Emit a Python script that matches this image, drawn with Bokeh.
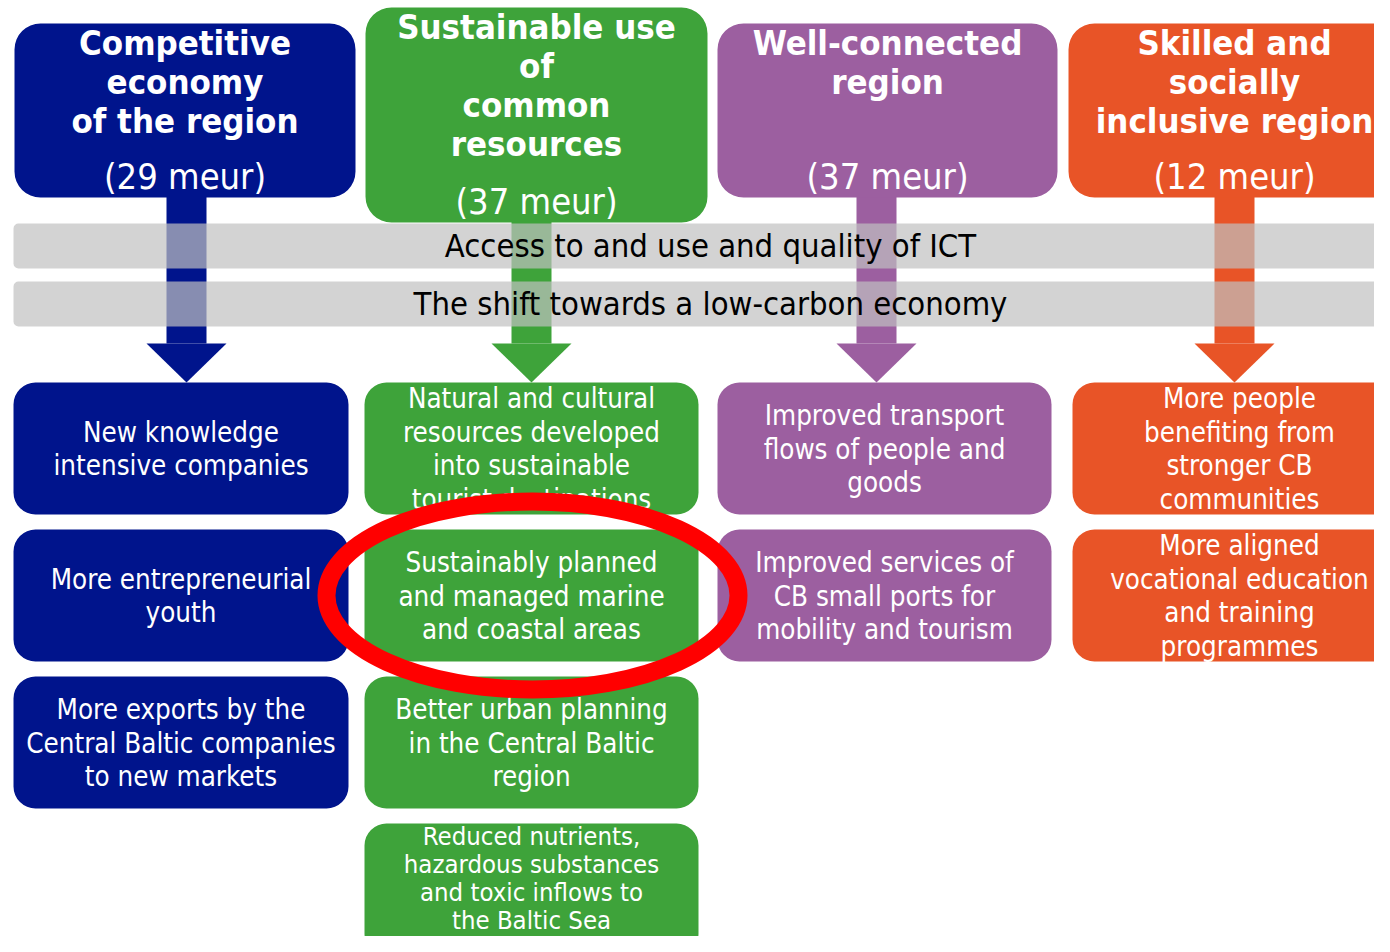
from bokeh.plotting import figure
from bokeh.models import Range1d
from bokeh.core.properties import value
from bokeh.embed import file_html
from bokeh.resources import INLINE

FONT = "DejaVu Sans Condensed"
FIG_W, FIG_H = 1374, 936

def Y(v):
    return FIG_H - v

# ---- priorities (header boxes) ----
prio_titles = [
    ["Competitive", "economy", "of the region"],
    ["Sustainable use", "of", "common", "resources"],
    ["Well-connected", "region"],
    ["Skilled and", "socially", "inclusive region"],
]
prio_budget = ["(29 meur)", "(37 meur)", "(37 meur)", "(12 meur)"]
prio_colors = ["#00148C", "#3EA33A", "#9C5FA0", "#E85427"]
prio_left = [14, 365, 717, 1068]
prio_right = [355, 707, 1057, 1400]
prio_top = [23, 7, 23, 23]
prio_bottom = [197, 222, 197, 197]
arrow_cx = [186, 531, 876, 1234]

# ---- horizontal principles ----
principles = ["Access to and use and quality of ICT", "The shift towards a low-carbon economy"]
band_top = [223, 281]
band_bottom = [268, 326]
band_text_x = 710

# ---- specific objectives (column, row, lines) ----
objectives = [
    (0, 0, ["New knowledge", "intensive companies"]),
    (0, 1, ["More entrepreneurial", "youth"]),
    (0, 2, ["More exports by the", "Central Baltic companies", "to new markets"]),
    (1, 0, ["Natural and cultural", "resources developed", "into sustainable", "tourist destinations"]),
    (1, 1, ["Sustainably planned", "and managed marine", "and coastal areas"]),
    (1, 2, ["Better urban planning", "in the Central Baltic", "region"]),
    (1, 3, ["Reduced nutrients,", "hazardous substances", "and toxic inflows to", "the Baltic Sea"]),
    (2, 0, ["Improved transport", "flows of people and", "goods"]),
    (2, 1, ["Improved services of", "CB small ports for", "mobility and tourism"]),
    (3, 0, ["More people", "benefiting from", "stronger CB", "communities"]),
    (3, 1, ["More aligned", "vocational education", "and training", "programmes"]),
]
col_left = [13, 364, 717, 1072]
col_right = [348, 698, 1051, 1406]
row_top = [382, 529, 676, 823]
box_h = 132
row_line_step = [33.7, 33.7, 33.7, 28]
row_text_center = [448, 595, 742, 877]
row_font_size = ["27.5px", "27.5px", "27.5px", "25.5px"]

p = figure(width=FIG_W, height=FIG_H, x_range=Range1d(0, FIG_W), y_range=Range1d(0, FIG_H),
           output_backend="svg", toolbar_location=None, min_border=0,
           x_axis_location=None, y_axis_location=None)
p.grid.visible = False
p.outline_line_color = None
p.background_fill_color = "white"

# arrows (shafts + heads)
shaft_w, head_w, head_base, head_tip = 40, 80, 343, 382
p.quad(left=[c - shaft_w / 2 for c in arrow_cx], right=[c + shaft_w / 2 for c in arrow_cx],
       top=[Y(b - 2) for b in prio_bottom], bottom=[Y(head_base)] * 4,
       fill_color=prio_colors, line_color=None)
p.patches(xs=[[c - head_w / 2, c + head_w / 2, c] for c in arrow_cx],
          ys=[[Y(head_base), Y(head_base), Y(head_tip)] for c in arrow_cx],
          fill_color=prio_colors, line_color=None)

# header boxes
p.quad(left=prio_left, right=prio_right, top=[Y(t) for t in prio_top], bottom=[Y(b) for b in prio_bottom],
       fill_color=prio_colors, line_color=None, border_radius=26)

tx, ty, tt = [], [], []
for i, lines in enumerate(prio_titles):
    cx = (prio_left[i] + prio_right[i]) / 2
    for k, ln in enumerate(lines):
        tx.append(cx); ty.append(Y(prio_top[i] + 19 + k * 39.3)); tt.append(ln)
p.text(x=tx, y=ty, text=tt, text_font=value(FONT), text_font_size=value("34.5px"),
       text_font_style="bold", text_color="white", text_align="center", text_baseline="middle")
p.text(x=[(prio_left[i] + prio_right[i]) / 2 for i in range(4)],
       y=[Y(prio_bottom[i] - 21) for i in range(4)], text=prio_budget,
       text_font=value(FONT), text_font_size=value("36px"), text_color="white",
       text_align="center", text_baseline="middle")

# horizontal bands
p.quad(left=[13, 13], right=[1400, 1400], top=[Y(t) for t in band_top], bottom=[Y(b) for b in band_bottom],
       fill_color="#C0C0C0", fill_alpha=0.7, line_color=None, border_radius=5)
p.text(x=[band_text_x] * 2, y=[Y((band_top[i] + band_bottom[i]) / 2) for i in range(2)], text=principles,
       text_font=value(FONT), text_font_size=value("32.5px"), text_color="black",
       text_align="center", text_baseline="middle")

# objective boxes
bl, br, bt, bb, bc = [], [], [], [], []
ox, oy, ot, ofs = [], [], [], []
for c, r, lines in objectives:
    bl.append(col_left[c]); br.append(col_right[c])
    bt.append(Y(row_top[r])); bb.append(Y(row_top[r] + box_h)); bc.append(prio_colors[c])
    cx = (col_left[c] + col_right[c]) / 2
    cy = row_text_center[r]
    n = len(lines)
    for k, ln in enumerate(lines):
        ox.append(cx); oy.append(Y(cy + (k - (n - 1) / 2) * row_line_step[r])); ot.append(ln)
        ofs.append(row_font_size[r])
p.quad(left=bl, right=br, top=bt, bottom=bb, fill_color=bc, line_color=None, border_radius=22)
p.text(x=ox, y=oy, text=ot, text_font=value(FONT), text_font_size=ofs, text_color="white",
       text_align="center", text_baseline="middle")

# highlight ellipse
p.ellipse(x=[532], y=[Y(595)], width=[412], height=[188], fill_alpha=0,
          line_color="#FF0000", line_width=18)

open("out.html", "w").write(file_html(p, INLINE))
